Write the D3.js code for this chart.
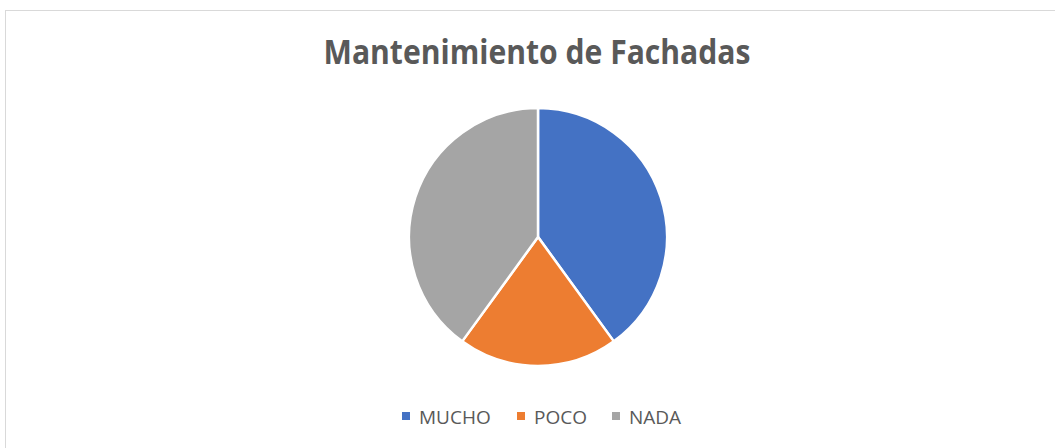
<!DOCTYPE html>
<html>
<head>
<meta charset="utf-8">
<script src="https://cdn.jsdelivr.net/npm/d3@7"></script>
<style>
  body { margin: 0; background: #fff; }
  svg { display: block; }
</style>
</head>
<body>
<svg id="chart" width="1055" height="448"></svg>
<script>
var categories = ["MUCHO", "POCO", "NADA"];
var values = [40, 20, 40];
var colors = ["#4472C4", "#ED7D31", "#A5A5A5"];
var title = "Mantenimiento de Fachadas";

var svg = d3.select("#chart"),
    width = +svg.attr("width"),
    height = +svg.attr("height");

// chart area frame
svg.append("rect")
    .attr("x", 5.5).attr("y", 10.5)
    .attr("width", width).attr("height", height)
    .attr("fill", "#fff")
    .attr("stroke", "#d9d9d9")
    .attr("stroke-width", 1);

svg.append("text")
    .attr("x", 537).attr("y", 64)
    .attr("text-anchor", "middle")
    .attr("font-family", "'Open Sans', sans-serif")
    .attr("font-weight", "bold")
    .attr("font-size", 34)
    .attr("textLength", 427)
    .attr("lengthAdjust", "spacingAndGlyphs")
    .attr("fill", "#595959")
    .text(title);

var cx = 538, cy = 237, r = 129;

var pie = d3.pie().sort(null).value(function(d) { return d; });
var arc = d3.arc().innerRadius(0).outerRadius(r);
var color = d3.scaleOrdinal().domain(categories).range(colors);

svg.append("g")
    .attr("transform", "translate(" + cx + "," + cy + ")")
  .selectAll("path")
    .data(pie(values))
    .enter().append("path")
    .attr("d", arc)
    .attr("fill", function(d, i) { return color(categories[i]); })
    .attr("stroke", "#fff")
    .attr("stroke-width", 2.5);

// legend
var legendX = [402, 517, 612];
var legend = svg.append("g").selectAll("g")
    .data(categories)
    .enter().append("g")
    .attr("transform", function(d, i) { return "translate(" + legendX[i] + ",412)"; });

legend.append("rect")
    .attr("width", 8).attr("height", 8)
    .attr("fill", function(d) { return color(d); });

legend.append("text")
    .attr("x", 17).attr("y", 11.5)
    .attr("font-family", "'Open Sans', sans-serif")
    .attr("font-size", 19)
    .attr("fill", "#595959")
    .text(function(d) { return d; });
</script>
</body>
</html>
